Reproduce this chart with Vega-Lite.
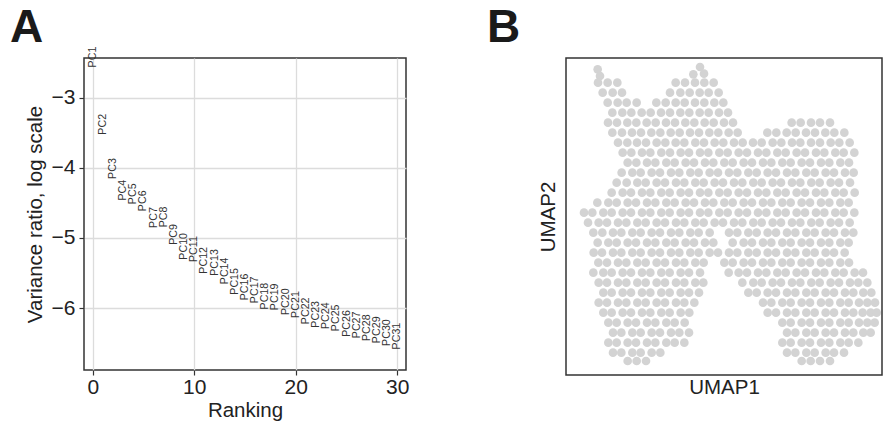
{
  "$schema": "https://vega.github.io/schema/vega-lite/v6.json",
  "background": "white",
  "padding": {"left": 9, "top": 3, "right": 2, "bottom": 2},
  "spacing": 76,
  "config": {
    "font": "Liberation Sans",
    "view": {"stroke": "#333333", "strokeWidth": 1.5},
    "axis": {"labelFont": "Liberation Sans", "titleFont": "Liberation Sans", "titleFontWeight": "normal", "labelColor": "#222222", "titleColor": "#222222"},
    "title": {"font": "Liberation Sans"}
  },
  "hconcat": [
    {
      "width": 322,
      "height": 312,
      "title": {"text": "A", "fontSize": 46, "fontWeight": "bold", "anchor": "start", "dx": -15, "offset": -5, "color": "#1a1a1a", "frame": "bounds"},
      "data": {"values": [
        {"rank": 0, "ratio": -2.42, "pc": "PC1"},
        {"rank": 1, "ratio": -3.38, "pc": "PC2"},
        {"rank": 2, "ratio": -4.01, "pc": "PC3"},
        {"rank": 3, "ratio": -4.32, "pc": "PC4"},
        {"rank": 4, "ratio": -4.37, "pc": "PC5"},
        {"rank": 5, "ratio": -4.47, "pc": "PC6"},
        {"rank": 6, "ratio": -4.71, "pc": "PC7"},
        {"rank": 7, "ratio": -4.70, "pc": "PC8"},
        {"rank": 8, "ratio": -4.95, "pc": "PC9"},
        {"rank": 9, "ratio": -5.12, "pc": "PC10"},
        {"rank": 10, "ratio": -5.16, "pc": "PC11"},
        {"rank": 11, "ratio": -5.32, "pc": "PC12"},
        {"rank": 12, "ratio": -5.35, "pc": "PC13"},
        {"rank": 13, "ratio": -5.47, "pc": "PC14"},
        {"rank": 14, "ratio": -5.62, "pc": "PC15"},
        {"rank": 15, "ratio": -5.70, "pc": "PC16"},
        {"rank": 16, "ratio": -5.74, "pc": "PC17"},
        {"rank": 17, "ratio": -5.83, "pc": "PC18"},
        {"rank": 18, "ratio": -5.84, "pc": "PC19"},
        {"rank": 19, "ratio": -5.91, "pc": "PC20"},
        {"rank": 20, "ratio": -5.95, "pc": "PC21"},
        {"rank": 21, "ratio": -6.04, "pc": "PC22"},
        {"rank": 22, "ratio": -6.09, "pc": "PC23"},
        {"rank": 23, "ratio": -6.11, "pc": "PC24"},
        {"rank": 24, "ratio": -6.14, "pc": "PC25"},
        {"rank": 25, "ratio": -6.22, "pc": "PC26"},
        {"rank": 26, "ratio": -6.24, "pc": "PC27"},
        {"rank": 27, "ratio": -6.28, "pc": "PC28"},
        {"rank": 28, "ratio": -6.31, "pc": "PC29"},
        {"rank": 29, "ratio": -6.35, "pc": "PC30"},
        {"rank": 30, "ratio": -6.40, "pc": "PC31"}
      ]},
      "mark": {"type": "text", "angle": 270, "fontSize": 10.7, "color": "#333333", "align": "center", "baseline": "middle"},
      "encoding": {
        "x": {"field": "rank", "type": "quantitative",
              "scale": {"domain": [-0.86, 30.86], "nice": false, "zero": false},
              "axis": {"values": [0, 10, 20, 30], "title": "Ranking", "domain": false, "grid": true, "gridColor": "#dcdcdc", "gridWidth": 1.3,
                       "tickColor": "#333333", "tickSize": 5, "tickWidth": 1.2, "labelFontSize": 21, "labelPadding": 1, "titleFontSize": 20.5, "titlePadding": 3}},
        "y": {"field": "ratio", "type": "quantitative",
              "scale": {"domain": [-6.884, -2.434], "nice": false, "zero": false},
              "axis": {"values": [-3, -4, -5, -6], "title": "Variance ratio, log scale", "domain": false, "grid": true, "gridColor": "#dcdcdc", "gridWidth": 1.3,
                       "tickColor": "#333333", "tickSize": 5, "tickWidth": 1.2, "labelFontSize": 21, "labelPadding": 4, "titleFontSize": 20.5, "titlePadding": 6}},
        "text": {"field": "pc", "type": "nominal"}
      }
    },
    {
      "width": 316,
      "height": 317,
      "title": {"text": "B", "fontSize": 46, "fontWeight": "bold", "anchor": "start", "dx": -51, "offset": 6, "color": "#1a1a1a", "frame": "bounds"},
      "data": {"values": [
        {"x":1.13,"y":9.55},{"x":1.20,"y":9.35},{"x":4.20,"y":9.62},{"x":4.00,"y":9.40},{"x":4.32,"y":9.42},
        {"x":1.14,"y":9.15},{"x":1.43,"y":9.15},{"x":1.72,"y":9.15},{"x":3.47,"y":9.15},{"x":3.75,"y":9.15},{"x":4.05,"y":9.15},{"x":4.33,"y":9.15},{"x":4.61,"y":9.15},
        {"x":1.28,"y":8.85},{"x":1.58,"y":8.85},{"x":1.86,"y":8.85},{"x":3.30,"y":8.85},{"x":3.61,"y":8.85},{"x":3.89,"y":8.85},{"x":4.19,"y":8.85},{"x":4.46,"y":8.85},{"x":4.76,"y":8.85},
        {"x":1.43,"y":8.55},{"x":1.73,"y":8.55},{"x":2.00,"y":8.55},{"x":2.30,"y":8.55},{"x":2.89,"y":8.55},{"x":3.17,"y":8.55},{"x":3.47,"y":8.55},{"x":3.74,"y":8.55},{"x":4.05,"y":8.55},{"x":4.33,"y":8.55},{"x":4.63,"y":8.55},{"x":4.90,"y":8.55},
        {"x":1.57,"y":8.25},{"x":1.87,"y":8.25},{"x":2.14,"y":8.25},{"x":2.45,"y":8.25},{"x":2.72,"y":8.25},{"x":3.03,"y":8.25},{"x":3.30,"y":8.25},{"x":3.61,"y":8.25},{"x":3.88,"y":8.25},{"x":4.19,"y":8.25},{"x":4.46,"y":8.25},{"x":4.77,"y":8.25},{"x":5.04,"y":8.25},
        {"x":1.44,"y":7.95},{"x":1.71,"y":7.95},{"x":2.02,"y":7.95},{"x":2.29,"y":7.95},{"x":2.60,"y":7.95},{"x":2.87,"y":7.95},{"x":3.18,"y":7.95},{"x":3.45,"y":7.95},{"x":3.76,"y":7.95},{"x":4.03,"y":7.95},{"x":4.34,"y":7.95},{"x":4.61,"y":7.95},{"x":4.92,"y":7.95},{"x":5.19,"y":7.95},{"x":6.95,"y":7.95},{"x":7.22,"y":7.95},{"x":7.53,"y":7.95},{"x":7.80,"y":7.95},{"x":8.10,"y":7.95},
        {"x":1.57,"y":7.65},{"x":1.86,"y":7.65},{"x":2.16,"y":7.65},{"x":2.43,"y":7.65},{"x":2.74,"y":7.65},{"x":3.01,"y":7.65},{"x":3.32,"y":7.65},{"x":3.59,"y":7.65},{"x":3.90,"y":7.65},{"x":4.17,"y":7.65},{"x":4.48,"y":7.65},{"x":4.75,"y":7.65},{"x":5.06,"y":7.65},{"x":5.33,"y":7.65},{"x":6.22,"y":7.65},{"x":6.49,"y":7.65},{"x":6.80,"y":7.65},{"x":7.07,"y":7.65},{"x":7.38,"y":7.65},{"x":7.65,"y":7.65},{"x":7.96,"y":7.65},{"x":8.23,"y":7.65},{"x":8.53,"y":7.65},
        {"x":1.74,"y":7.35},{"x":2.02,"y":7.35},{"x":2.31,"y":7.35},{"x":2.58,"y":7.35},{"x":2.90,"y":7.35},{"x":3.16,"y":7.35},{"x":3.47,"y":7.35},{"x":3.73,"y":7.35},{"x":4.06,"y":7.35},{"x":4.32,"y":7.35},{"x":4.64,"y":7.35},{"x":4.90,"y":7.35},{"x":5.22,"y":7.35},{"x":5.48,"y":7.35},{"x":5.79,"y":7.35},{"x":6.05,"y":7.35},{"x":6.38,"y":7.35},{"x":6.64,"y":7.35},{"x":6.96,"y":7.35},{"x":7.21,"y":7.35},{"x":7.53,"y":7.35},{"x":7.80,"y":7.35},{"x":8.12,"y":7.35},{"x":8.38,"y":7.35},{"x":8.69,"y":7.35},
        {"x":1.88,"y":7.05},{"x":2.14,"y":7.05},{"x":2.46,"y":7.05},{"x":2.71,"y":7.05},{"x":3.04,"y":7.05},{"x":3.30,"y":7.05},{"x":3.62,"y":7.05},{"x":3.87,"y":7.05},{"x":4.20,"y":7.05},{"x":4.45,"y":7.05},{"x":4.78,"y":7.05},{"x":5.03,"y":7.05},{"x":5.36,"y":7.05},{"x":5.61,"y":7.05},{"x":5.94,"y":7.05},{"x":6.19,"y":7.05},{"x":6.52,"y":7.05},{"x":6.77,"y":7.05},{"x":7.10,"y":7.05},{"x":7.35,"y":7.05},{"x":7.68,"y":7.05},{"x":7.93,"y":7.05},{"x":8.26,"y":7.05},{"x":8.51,"y":7.05},{"x":8.83,"y":7.05},
        {"x":2.03,"y":6.75},{"x":2.29,"y":6.75},{"x":2.61,"y":6.75},{"x":2.86,"y":6.75},{"x":3.19,"y":6.75},{"x":3.44,"y":6.75},{"x":3.77,"y":6.75},{"x":4.02,"y":6.75},{"x":4.35,"y":6.75},{"x":4.60,"y":6.75},{"x":4.93,"y":6.75},{"x":5.18,"y":6.75},{"x":5.51,"y":6.75},{"x":5.76,"y":6.75},{"x":6.09,"y":6.75},{"x":6.34,"y":6.75},{"x":6.67,"y":6.75},{"x":6.92,"y":6.75},{"x":7.25,"y":6.75},{"x":7.50,"y":6.75},{"x":7.83,"y":6.75},{"x":8.08,"y":6.75},{"x":8.41,"y":6.75},{"x":8.67,"y":6.75},
        {"x":1.85,"y":6.45},{"x":2.17,"y":6.45},{"x":2.42,"y":6.45},{"x":2.75,"y":6.45},{"x":3.00,"y":6.45},{"x":3.33,"y":6.45},{"x":3.58,"y":6.45},{"x":3.91,"y":6.45},{"x":4.16,"y":6.45},{"x":4.49,"y":6.45},{"x":4.74,"y":6.45},{"x":5.07,"y":6.45},{"x":5.32,"y":6.45},{"x":5.65,"y":6.45},{"x":5.90,"y":6.45},{"x":6.23,"y":6.45},{"x":6.48,"y":6.45},{"x":6.81,"y":6.45},{"x":7.06,"y":6.45},{"x":7.39,"y":6.45},{"x":7.64,"y":6.45},{"x":7.97,"y":6.45},{"x":8.22,"y":6.45},{"x":8.55,"y":6.45},{"x":8.81,"y":6.45},
        {"x":1.70,"y":6.15},{"x":2.00,"y":6.15},{"x":2.32,"y":6.15},{"x":2.57,"y":6.15},{"x":2.90,"y":6.15},{"x":3.15,"y":6.15},{"x":3.48,"y":6.15},{"x":3.73,"y":6.15},{"x":4.06,"y":6.15},{"x":4.31,"y":6.15},{"x":4.64,"y":6.15},{"x":4.89,"y":6.15},{"x":5.22,"y":6.15},{"x":5.47,"y":6.15},{"x":5.80,"y":6.15},{"x":6.05,"y":6.15},{"x":6.38,"y":6.15},{"x":6.63,"y":6.15},{"x":6.96,"y":6.15},{"x":7.21,"y":6.15},{"x":7.54,"y":6.15},{"x":7.79,"y":6.15},{"x":8.12,"y":6.15},{"x":8.37,"y":6.15},{"x":8.70,"y":6.15},
        {"x":1.55,"y":5.85},{"x":1.88,"y":5.85},{"x":2.13,"y":5.85},{"x":2.46,"y":5.85},{"x":2.71,"y":5.85},{"x":3.04,"y":5.85},{"x":3.29,"y":5.85},{"x":3.62,"y":5.85},{"x":3.87,"y":5.85},{"x":4.20,"y":5.85},{"x":4.45,"y":5.85},{"x":4.78,"y":5.85},{"x":5.03,"y":5.85},{"x":5.36,"y":5.85},{"x":5.61,"y":5.85},{"x":5.94,"y":5.85},{"x":6.19,"y":5.85},{"x":6.52,"y":5.85},{"x":6.77,"y":5.85},{"x":7.10,"y":5.85},{"x":7.35,"y":5.85},{"x":7.68,"y":5.85},{"x":7.93,"y":5.85},{"x":8.26,"y":5.85},{"x":8.51,"y":5.85},{"x":8.84,"y":5.85},
        {"x":1.12,"y":5.55},{"x":1.45,"y":5.55},{"x":1.70,"y":5.55},{"x":2.03,"y":5.55},{"x":2.28,"y":5.55},{"x":2.61,"y":5.55},{"x":2.86,"y":5.55},{"x":3.19,"y":5.55},{"x":3.44,"y":5.55},{"x":3.77,"y":5.55},{"x":4.02,"y":5.55},{"x":4.35,"y":5.55},{"x":4.60,"y":5.55},{"x":4.93,"y":5.55},{"x":5.18,"y":5.55},{"x":5.51,"y":5.55},{"x":5.76,"y":5.55},{"x":6.09,"y":5.55},{"x":6.34,"y":5.55},{"x":6.67,"y":5.55},{"x":6.92,"y":5.55},{"x":7.25,"y":5.55},{"x":7.50,"y":5.55},{"x":7.83,"y":5.55},{"x":8.08,"y":5.55},{"x":8.41,"y":5.55},{"x":8.66,"y":5.55},
        {"x":0.72,"y":5.25},{"x":0.97,"y":5.25},{"x":1.30,"y":5.25},{"x":1.55,"y":5.25},{"x":1.88,"y":5.25},{"x":2.13,"y":5.25},{"x":2.46,"y":5.25},{"x":2.71,"y":5.25},{"x":3.04,"y":5.25},{"x":3.29,"y":5.25},{"x":3.62,"y":5.25},{"x":3.87,"y":5.25},{"x":4.20,"y":5.25},{"x":4.45,"y":5.25},{"x":4.78,"y":5.25},{"x":5.03,"y":5.25},{"x":5.36,"y":5.25},{"x":5.61,"y":5.25},{"x":5.94,"y":5.25},{"x":6.19,"y":5.25},{"x":6.52,"y":5.25},{"x":6.77,"y":5.25},{"x":7.10,"y":5.25},{"x":7.35,"y":5.25},{"x":7.68,"y":5.25},{"x":7.93,"y":5.25},{"x":8.26,"y":5.25},{"x":8.51,"y":5.25},{"x":8.83,"y":5.25},
        {"x":0.84,"y":4.95},{"x":1.16,"y":4.95},{"x":1.41,"y":4.95},{"x":1.74,"y":4.95},{"x":1.99,"y":4.95},{"x":2.32,"y":4.95},{"x":2.57,"y":4.95},{"x":2.90,"y":4.95},{"x":3.15,"y":4.95},{"x":3.48,"y":4.95},{"x":3.73,"y":4.95},{"x":4.06,"y":4.95},{"x":4.31,"y":4.95},{"x":4.64,"y":4.95},{"x":4.89,"y":4.95},{"x":5.22,"y":4.95},{"x":5.47,"y":4.95},{"x":5.80,"y":4.95},{"x":6.05,"y":4.95},{"x":6.38,"y":4.95},{"x":6.63,"y":4.95},{"x":6.96,"y":4.95},{"x":7.21,"y":4.95},{"x":7.54,"y":4.95},{"x":7.79,"y":4.95},{"x":8.12,"y":4.95},{"x":8.37,"y":4.95},{"x":8.69,"y":4.95},
        {"x":1.00,"y":4.65},{"x":1.27,"y":4.65},{"x":1.59,"y":4.65},{"x":1.84,"y":4.65},{"x":2.17,"y":4.65},{"x":2.42,"y":4.65},{"x":2.75,"y":4.65},{"x":3.00,"y":4.65},{"x":3.33,"y":4.65},{"x":3.58,"y":4.65},{"x":3.91,"y":4.65},{"x":4.16,"y":4.65},{"x":4.49,"y":4.65},{"x":5.07,"y":4.65},{"x":5.32,"y":4.65},{"x":5.65,"y":4.65},{"x":5.90,"y":4.65},{"x":6.23,"y":4.65},{"x":6.48,"y":4.65},{"x":6.81,"y":4.65},{"x":7.06,"y":4.65},{"x":7.39,"y":4.65},{"x":7.64,"y":4.65},{"x":7.97,"y":4.65},{"x":8.22,"y":4.65},{"x":8.55,"y":4.65},{"x":8.80,"y":4.65},
        {"x":1.13,"y":4.35},{"x":1.45,"y":4.35},{"x":1.70,"y":4.35},{"x":2.03,"y":4.35},{"x":2.28,"y":4.35},{"x":2.61,"y":4.35},{"x":2.86,"y":4.35},{"x":3.19,"y":4.35},{"x":3.44,"y":4.35},{"x":3.77,"y":4.35},{"x":4.02,"y":4.35},{"x":4.35,"y":4.35},{"x":4.60,"y":4.35},{"x":5.18,"y":4.35},{"x":5.51,"y":4.35},{"x":5.76,"y":4.35},{"x":6.09,"y":4.35},{"x":6.34,"y":4.35},{"x":6.67,"y":4.35},{"x":6.92,"y":4.35},{"x":7.25,"y":4.35},{"x":7.50,"y":4.35},{"x":7.83,"y":4.35},{"x":8.08,"y":4.35},{"x":8.41,"y":4.35},{"x":8.66,"y":4.35},
        {"x":1.01,"y":4.05},{"x":1.26,"y":4.05},{"x":1.59,"y":4.05},{"x":1.84,"y":4.05},{"x":2.17,"y":4.05},{"x":2.42,"y":4.05},{"x":2.75,"y":4.05},{"x":3.00,"y":4.05},{"x":3.33,"y":4.05},{"x":3.58,"y":4.05},{"x":3.91,"y":4.05},{"x":4.16,"y":4.05},{"x":4.49,"y":4.05},{"x":4.74,"y":4.05},{"x":5.07,"y":4.05},{"x":5.32,"y":4.05},{"x":5.65,"y":4.05},{"x":5.90,"y":4.05},{"x":6.23,"y":4.05},{"x":6.48,"y":4.05},{"x":6.81,"y":4.05},{"x":7.06,"y":4.05},{"x":7.39,"y":4.05},{"x":7.64,"y":4.05},{"x":7.97,"y":4.05},{"x":8.22,"y":4.05},{"x":8.54,"y":4.05},
        {"x":1.15,"y":3.75},{"x":1.41,"y":3.75},{"x":1.74,"y":3.75},{"x":1.99,"y":3.75},{"x":2.32,"y":3.75},{"x":2.57,"y":3.75},{"x":2.90,"y":3.75},{"x":3.15,"y":3.75},{"x":3.48,"y":3.75},{"x":3.73,"y":3.75},{"x":4.06,"y":3.75},{"x":4.31,"y":3.75},{"x":4.93,"y":3.75},{"x":5.18,"y":3.75},{"x":5.51,"y":3.75},{"x":5.76,"y":3.75},{"x":6.09,"y":3.75},{"x":6.34,"y":3.75},{"x":6.67,"y":3.75},{"x":6.92,"y":3.75},{"x":7.25,"y":3.75},{"x":7.50,"y":3.75},{"x":7.83,"y":3.75},{"x":8.08,"y":3.75},{"x":8.41,"y":3.75},{"x":8.67,"y":3.75},
        {"x":1.00,"y":3.45},{"x":1.30,"y":3.45},{"x":1.55,"y":3.45},{"x":1.88,"y":3.45},{"x":2.13,"y":3.45},{"x":2.46,"y":3.45},{"x":2.71,"y":3.45},{"x":3.04,"y":3.45},{"x":3.29,"y":3.45},{"x":3.62,"y":3.45},{"x":3.87,"y":3.45},{"x":4.20,"y":3.45},{"x":5.06,"y":3.45},{"x":5.36,"y":3.45},{"x":5.61,"y":3.45},{"x":5.94,"y":3.45},{"x":6.19,"y":3.45},{"x":6.52,"y":3.45},{"x":6.77,"y":3.45},{"x":7.10,"y":3.45},{"x":7.35,"y":3.45},{"x":7.68,"y":3.45},{"x":7.93,"y":3.45},{"x":8.26,"y":3.45},{"x":8.51,"y":3.45},{"x":8.84,"y":3.45},{"x":9.09,"y":3.45},
        {"x":1.16,"y":3.15},{"x":1.41,"y":3.15},{"x":1.74,"y":3.15},{"x":1.99,"y":3.15},{"x":2.32,"y":3.15},{"x":2.57,"y":3.15},{"x":2.90,"y":3.15},{"x":3.15,"y":3.15},{"x":3.48,"y":3.15},{"x":3.73,"y":3.15},{"x":4.06,"y":3.15},{"x":4.30,"y":3.15},{"x":5.47,"y":3.15},{"x":5.80,"y":3.15},{"x":6.05,"y":3.15},{"x":6.38,"y":3.15},{"x":6.63,"y":3.15},{"x":6.96,"y":3.15},{"x":7.21,"y":3.15},{"x":7.54,"y":3.15},{"x":7.79,"y":3.15},{"x":8.12,"y":3.15},{"x":8.37,"y":3.15},{"x":8.70,"y":3.15},{"x":8.95,"y":3.15},{"x":9.22,"y":3.15},
        {"x":1.30,"y":2.85},{"x":1.55,"y":2.85},{"x":1.88,"y":2.85},{"x":2.13,"y":2.85},{"x":2.46,"y":2.85},{"x":2.71,"y":2.85},{"x":3.04,"y":2.85},{"x":3.29,"y":2.85},{"x":3.62,"y":2.85},{"x":3.87,"y":2.85},{"x":4.17,"y":2.85},{"x":5.65,"y":2.85},{"x":5.90,"y":2.85},{"x":6.23,"y":2.85},{"x":6.48,"y":2.85},{"x":6.81,"y":2.85},{"x":7.06,"y":2.85},{"x":7.39,"y":2.85},{"x":7.64,"y":2.85},{"x":7.97,"y":2.85},{"x":8.22,"y":2.85},{"x":8.55,"y":2.85},{"x":8.80,"y":2.85},{"x":9.10,"y":2.85},{"x":9.34,"y":2.85},
        {"x":1.16,"y":2.55},{"x":1.41,"y":2.55},{"x":1.74,"y":2.55},{"x":1.99,"y":2.55},{"x":2.32,"y":2.55},{"x":2.57,"y":2.55},{"x":2.90,"y":2.55},{"x":3.15,"y":2.55},{"x":3.48,"y":2.55},{"x":3.73,"y":2.55},{"x":4.03,"y":2.55},{"x":6.09,"y":2.55},{"x":6.34,"y":2.55},{"x":6.67,"y":2.55},{"x":6.92,"y":2.55},{"x":7.25,"y":2.55},{"x":7.50,"y":2.55},{"x":7.83,"y":2.55},{"x":8.08,"y":2.55},{"x":8.41,"y":2.55},{"x":8.66,"y":2.55},{"x":8.97,"y":2.55},{"x":9.22,"y":2.55},{"x":9.45,"y":2.55},
        {"x":1.30,"y":2.25},{"x":1.55,"y":2.25},{"x":1.88,"y":2.25},{"x":2.13,"y":2.25},{"x":2.46,"y":2.25},{"x":2.71,"y":2.25},{"x":3.04,"y":2.25},{"x":3.29,"y":2.25},{"x":3.62,"y":2.25},{"x":3.88,"y":2.25},{"x":6.23,"y":2.25},{"x":6.48,"y":2.25},{"x":6.81,"y":2.25},{"x":7.06,"y":2.25},{"x":7.39,"y":2.25},{"x":7.64,"y":2.25},{"x":7.97,"y":2.25},{"x":8.22,"y":2.25},{"x":8.55,"y":2.25},{"x":8.80,"y":2.25},{"x":9.08,"y":2.25},{"x":9.32,"y":2.25},{"x":9.50,"y":2.25},
        {"x":1.45,"y":1.95},{"x":1.70,"y":1.95},{"x":2.03,"y":1.95},{"x":2.28,"y":1.95},{"x":2.61,"y":1.95},{"x":2.86,"y":1.95},{"x":3.19,"y":1.95},{"x":3.44,"y":1.95},{"x":3.74,"y":1.95},{"x":6.67,"y":1.95},{"x":6.92,"y":1.95},{"x":7.25,"y":1.95},{"x":7.50,"y":1.95},{"x":7.83,"y":1.95},{"x":8.08,"y":1.95},{"x":8.41,"y":1.95},{"x":8.66,"y":1.95},{"x":8.97,"y":1.95},{"x":9.22,"y":1.95},{"x":9.44,"y":1.95},
        {"x":1.59,"y":1.65},{"x":1.84,"y":1.65},{"x":2.17,"y":1.65},{"x":2.42,"y":1.65},{"x":2.75,"y":1.65},{"x":3.00,"y":1.65},{"x":3.33,"y":1.65},{"x":3.58,"y":1.65},{"x":3.87,"y":1.65},{"x":6.81,"y":1.65},{"x":7.06,"y":1.65},{"x":7.39,"y":1.65},{"x":7.64,"y":1.65},{"x":7.97,"y":1.65},{"x":8.22,"y":1.65},{"x":8.55,"y":1.65},{"x":8.80,"y":1.65},{"x":9.10,"y":1.65},{"x":9.32,"y":1.65},
        {"x":1.45,"y":1.35},{"x":1.70,"y":1.35},{"x":2.03,"y":1.35},{"x":2.28,"y":1.35},{"x":2.61,"y":1.35},{"x":2.86,"y":1.35},{"x":3.19,"y":1.35},{"x":3.44,"y":1.35},{"x":3.73,"y":1.35},{"x":6.67,"y":1.35},{"x":6.92,"y":1.35},{"x":7.25,"y":1.35},{"x":7.50,"y":1.35},{"x":7.83,"y":1.35},{"x":8.08,"y":1.35},{"x":8.41,"y":1.35},{"x":8.66,"y":1.35},{"x":8.95,"y":1.35},
        {"x":1.59,"y":1.05},{"x":1.84,"y":1.05},{"x":2.17,"y":1.05},{"x":2.42,"y":1.05},{"x":2.75,"y":1.05},{"x":3.01,"y":1.05},{"x":6.81,"y":1.05},{"x":7.06,"y":1.05},{"x":7.39,"y":1.05},{"x":7.64,"y":1.05},{"x":7.97,"y":1.05},{"x":8.22,"y":1.05},{"x":8.52,"y":1.05},
        {"x":2.03,"y":0.80},{"x":2.30,"y":0.80},{"x":2.58,"y":0.80},{"x":7.25,"y":0.80},{"x":7.52,"y":0.80},{"x":7.80,"y":0.80},{"x":8.10,"y":0.80}
      ]},
      "mark": {"type": "circle", "size": 75, "color": "#d3d3d3", "opacity": 1},
      "encoding": {
        "x": {"field": "x", "type": "quantitative", "scale": {"domain": [0.18, 9.66], "nice": false, "zero": false},
              "axis": {"title": "UMAP1", "ticks": false, "labels": false, "grid": false, "domain": false, "titleFontSize": 20.5, "titlePadding": 2}},
        "y": {"field": "y", "type": "quantitative", "scale": {"domain": [0.38, 9.89], "nice": false, "zero": false},
              "axis": {"title": "UMAP2", "ticks": false, "labels": false, "grid": false, "domain": false, "titleFontSize": 20.5, "titlePadding": 8}}
      }
    }
  ]
}
